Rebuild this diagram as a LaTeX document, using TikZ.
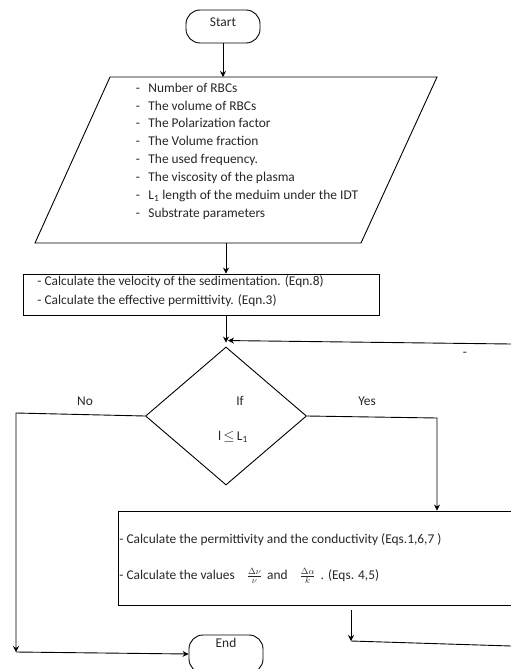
\documentclass[tikz,border=0pt]{standalone}
\usepackage{fontspec}
\setmainfont{Carlito}
\usetikzlibrary{shapes.geometric, arrows, arrows.meta, positioning}
\tikzset{
  terminal/.style={draw, rectangle, rounded corners=14pt, minimum width=74pt, minimum height=33pt, inner sep=0pt}
}
\tikzset{
  procbox/.style={draw, rectangle, inner sep=0pt}
}
\tikzset{
  decision/.style={draw, diamond, minimum width=161pt, minimum height=138pt, inner sep=0pt}
}
\tikzset{
  flowtext/.style={font=\fontsize{13.4}{15}\selectfont, text=black!85, inner sep=0pt, text height=9pt, text depth=2.5pt}
}
\newcommand{\smallfrac}[2]{{\fontsize{12.5}{12}\selectfont$\frac{#1}{#2}$}}

\begin{document}
\begin{tikzpicture}[x=1pt, y=-1pt, >={Stealth[length=6pt,width=6pt]}, line width=0.9pt]
      \clip (0,0) rectangle (511,669);
      % Start
      \node[terminal, flowtext, text depth=9.6pt] (start) at (223,26.5) {Start};
      % input data
      \coordinate (inTop) at (223,77);
      \coordinate (inBot) at (226,243);
      \draw (110,77) -- (437,77) -- (361,243) -- (35,243) -- cycle;
      \foreach \y/\t [count=\i] in {89/{Number of RBCs}, 107/{The volume of RBCs}, 124/{The Polarization factor},
          142/{The Volume fraction}, 160/{The used frequency.}, 178/{The viscosity of the plasma},
          196/{L\textsubscript{1} length of the meduim under the IDT}, 214/{Substrate parameters}}
        {\node[flowtext] (dash\i) at (138,\y) {-}; \node[flowtext, anchor=west] (item\i) at (148,\y) {\t};}
      % sedimentation step
      \node[procbox, minimum width=356pt, minimum height=41pt] (calc1) at (201,294.5) {};
      \node[flowtext, anchor=west] (calc1a) at (37,282) {- Calculate the velocity of the sedimentation. (Eqn.8)};
      \node[flowtext, anchor=west] (calc1b) at (37,301) {- Calculate the effective permittivity. (Eqn.3)};
      % decision
      \node[decision] (cond) at (226,416) {};
      \node[flowtext] (ifA) at (240,402) {If};
      \node[flowtext] (ifB) at (233,437) {l\,$\leq$\,L\textsubscript{1}};
      \node[flowtext] (no) at (85,402) {No};
      \node[flowtext] (yes) at (367,402) {Yes};
      \node[flowtext] (tick) at (465,353) {-};
      % permittivity step
      \node[procbox, minimum width=412pt, minimum height=94pt] (calc2) at (324,558) {};
      \node[flowtext, anchor=west] (calc2a) at (119,540) {- Calculate the permittivity and the conductivity (Eqs.1,6,7 )};
      \node[flowtext, anchor=west] (calc2b) at (119,576) {- Calculate the values\hspace{12pt}\smallfrac{\Delta\nu}{\nu}\hspace{5pt}and\hspace{12pt}\smallfrac{\Delta\alpha}{k}\hspace{5pt}. (Eqs. 4,5)};
      % End
      \node[terminal, flowtext, minimum height=38pt, text depth=22.6pt] (end) at (226,654) {End};
      % connectors
      \coordinate (loopIn) at (511,344);
      \coordinate (noTop) at (16,413);
      \coordinate (noBot) at (16,652);
      \coordinate (yesTop) at (437,418);
      \coordinate (loopBot) at (351,641);
      \coordinate (loopOut) at (511,646);
      \draw[->] (start) -- (inTop);
      \draw[->] (inBot) -- (inBot |- calc1.north);
      \draw[->] (calc1.south -| cond.north) -- ([yshift=4pt]cond.north);
      \draw[->] (loopIn) -- ([xshift=2pt,yshift=6pt]cond.north);
      \draw[->] (cond.west) -- (noTop) -- (noBot);
      \draw[->] (noBot) -- (end.west);
      \draw[->] (cond.east) -- (yesTop) -- (yesTop |- calc2.north);
      \draw[->] ([yshift=-5pt]calc2.south -| loopBot) -- (loopBot);
      \draw (loopBot) -- (loopOut);
    \end{tikzpicture}
\end{document}
